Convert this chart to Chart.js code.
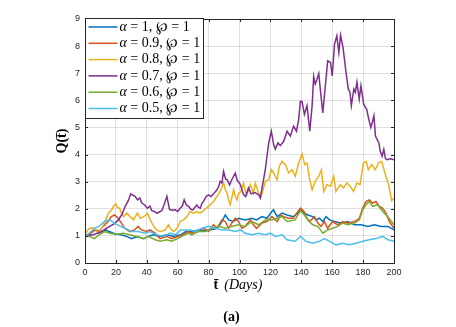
<!DOCTYPE html>
<html>
<head>
<meta charset="utf-8">
<script src="https://cdn.jsdelivr.net/npm/chart.js@4.4.1/dist/chart.umd.min.js"></script>
<style>
  html, body { margin: 0; padding: 0; background: #fff; }
  #wrap { width: 456px; height: 327px; }
</style>
</head>
<body>
<div id="wrap"><canvas id="qChart" width="456" height="327"></canvas></div>
<script>
// values, day -> Q(t)
const xTicks = [0, 20, 40, 60, 80, 100, 120, 140, 160, 180, 200];
const yTicks = [0, 1, 2, 3, 4, 5, 6, 7, 8, 9];

const seriesLabels = ['α = 1, ℘ = 1', 'α = 0.9, ℘ = 1', 'α = 0.8, ℘ = 1', 'α = 0.7, ℘ = 1', 'α = 0.6, ℘ = 1', 'α = 0.5, ℘ = 1'];
const seriesColors = ['#0072BD', '#D95319', '#EDB120', '#7E2F8E', '#77AC30', '#4DBEEE'];

const a10Days = [0, 2, 4, 7, 10, 13.4, 16, 20, 23, 27, 30, 34, 38, 41, 44, 48, 53, 57, 62, 65, 69, 73.5, 77, 80, 84, 86.5, 88.6, 90.8, 93, 96, 99.4, 103.7, 108, 111, 114.5, 117.7, 121, 122, 124.4, 127.6, 130.8, 134.8, 138, 139.5, 142, 144.2, 147.4, 149.6, 151.7, 154, 156, 158.3, 161.5, 165.8, 170, 174.4, 178.8, 183, 187.3, 191.6, 196, 200];
const a10Vals = [1.0, 1.05, 1.16, 1.22, 1.16, 1.22, 1.15, 1.06, 1.05, 0.98, 0.9, 0.98, 0.9, 0.98, 1.04, 0.98, 1.04, 0.98, 1.04, 1.15, 1.16, 1.22, 1.2, 1.22, 1.25, 1.35, 1.53, 1.77, 1.59, 1.53, 1.65, 1.59, 1.65, 1.59, 1.71, 1.65, 1.9, 1.96, 1.71, 1.84, 1.77, 1.71, 1.84, 2.0, 1.84, 1.77, 1.71, 1.59, 1.65, 1.53, 1.71, 1.59, 1.53, 1.47, 1.53, 1.41, 1.41, 1.35, 1.41, 1.35, 1.35, 1.22];

const a09Days = [0, 3, 6, 9, 11.7, 15, 17, 19.2, 21.4, 23.6, 25.7, 29, 32, 34.4, 36.5, 39.8, 42, 45.4, 48.6, 51, 53, 56, 60, 63.4, 66.5, 69, 73.5, 77, 80, 83.2, 85.4, 88.6, 90.8, 93, 95, 97.3, 99.4, 101.5, 103.7, 107, 109, 111, 114.5, 117.7, 121, 124.4, 126.5, 128.7, 131.6, 134.8, 137, 139.5, 141.7, 143, 145.3, 148.5, 150.7, 152.8, 155, 157, 160.3, 163.5, 166.8, 170, 174.4, 177.6, 179.7, 181.9, 184, 186.2, 188.3, 190.5, 192.7, 194.8, 197, 200];
const a09Vals = [1.0, 1.04, 1.22, 1.16, 1.35, 1.53, 1.71, 1.77, 1.65, 1.47, 1.28, 1.16, 1.22, 1.35, 1.22, 1.16, 1.22, 1.1, 0.9, 0.95, 0.98, 0.9, 0.98, 1.04, 1.16, 1.1, 1.22, 1.28, 1.16, 1.41, 1.28, 1.59, 1.53, 1.28, 1.47, 1.65, 1.53, 1.28, 1.35, 1.59, 1.41, 1.28, 1.47, 1.53, 1.71, 1.53, 1.77, 1.71, 1.65, 1.65, 1.84, 2.02, 1.9, 1.71, 1.53, 1.71, 1.47, 1.35, 1.53, 1.28, 1.53, 1.41, 1.53, 1.47, 1.53, 1.65, 2.02, 2.27, 2.33, 2.21, 2.27, 2.09, 2.02, 1.84, 1.53, 1.28];

const a08Days = [0, 1.5, 3.2, 5, 6.5, 8.7, 10.5, 12, 13.5, 15.1, 17.3, 18.5, 20, 21, 22.4, 23.5, 25, 27, 29.2, 31.4, 32.5, 34, 35.7, 37.8, 39, 40.4, 42.2, 43.5, 45.4, 47, 48.6, 50, 51.9, 54, 55.5, 57.4, 59.5, 61.6, 63.8, 66, 68, 70.2, 72.4, 74.5, 77.2, 80, 83.2, 85.4, 87.5, 89.7, 90.8, 91.9, 93, 94, 95, 96.2, 97.3, 98.4, 99.4, 100.5, 101.5, 102.6, 104, 104.8, 107, 109, 110.2, 112, 113.5, 115, 116.7, 118.9, 120.6, 122.1, 124.3, 125.8, 127.5, 129.7, 131.8, 134, 136.1, 138.3, 140.5, 142.2, 143.7, 145.2, 147, 149, 151.3, 153, 154.5, 156.6, 158.8, 161, 162.4, 165.2, 167.3, 169.5, 171.6, 173.8, 175.9, 178, 180.2, 182, 183.4, 185.6, 187.8, 190, 192, 194.2, 196.4, 198.5, 200];
const a08Vals = [1.04, 1.2, 1.28, 1.3, 1.25, 1.1, 1.25, 1.41, 1.6, 1.84, 1.96, 2.1, 2.18, 2.05, 2.02, 1.85, 1.71, 1.84, 1.71, 1.59, 1.7, 1.84, 1.65, 1.71, 1.75, 1.84, 1.59, 1.45, 1.28, 1.2, 1.16, 1.18, 1.22, 1.41, 1.25, 1.16, 1.28, 1.53, 1.59, 1.71, 1.9, 1.84, 1.9, 1.84, 1.96, 2.09, 2.27, 2.46, 2.64, 2.95, 2.7, 2.6, 2.3, 2.15, 2.4, 2.7, 2.45, 2.33, 2.57, 2.6, 2.75, 2.95, 2.6, 2.52, 2.89, 2.58, 2.95, 2.64, 2.4, 2.64, 3.01, 3.07, 3.44, 3.32, 3.07, 3.57, 3.75, 3.63, 3.32, 3.44, 3.2, 3.69, 4.02, 3.63, 3.69, 3.14, 2.7, 3.01, 3.2, 3.44, 2.64, 2.89, 2.83, 3.2, 2.64, 2.89, 2.77, 2.95, 2.83, 2.64, 2.95, 2.89, 3.69, 3.75, 3.44, 3.63, 3.44, 3.69, 3.75, 3.3, 2.9, 2.3, 2.4];

const a07Days = [0, 3, 5.4, 8, 11, 13, 16, 19, 21.6, 24, 26, 28, 29.6, 31, 32.4, 34, 35.5, 36.7, 38.5, 40.4, 42, 43.2, 45, 46.5, 48, 49.7, 51.5, 53, 54.7, 56.5, 58.4, 60, 61.6, 63, 64.2, 65.5, 67, 68.5, 69.8, 71, 72.4, 73.5, 74.6, 75.7, 77, 78.5, 80, 81.5, 83.2, 85.4, 86.5, 87.5, 88.6, 89.7, 91, 92, 93.6, 95, 97.3, 98.5, 100.5, 102.6, 104, 105.8, 107.5, 110, 112.4, 113.5, 114.6, 116.7, 118.9, 120.6, 122.1, 123.2, 124.9, 126.4, 128.6, 130.8, 132.9, 135, 136.9, 138.3, 139.4, 140.5, 142, 143.7, 145.5, 147, 148, 149, 150, 151.3, 152.5, 153.9, 155.5, 157.1, 158.9, 160, 161.5, 163, 164.3, 165.4, 167, 168.8, 170.4, 171.5, 172.4, 174, 175, 176, 177.5, 178.6, 180.4, 182.3, 183.7, 185, 186, 187, 188, 190.2, 191.2, 192.3, 193.4, 194.5, 195.6, 197.7, 200];
const a07Vals = [1.0, 1.02, 1.04, 1.1, 1.15, 1.25, 1.35, 1.45, 1.59, 1.8, 2.09, 2.3, 2.55, 2.5, 2.46, 2.33, 2.4, 2.21, 2.15, 2.02, 2.1, 1.93, 1.9, 1.83, 1.88, 1.93, 2.2, 2.46, 1.98, 1.95, 1.96, 1.9, 2.02, 2.1, 2.33, 2.15, 2.09, 1.98, 1.96, 2.05, 2.14, 2.05, 2.02, 2.2, 2.3, 2.46, 2.51, 2.45, 2.55, 2.7, 2.82, 3.01, 2.95, 3.38, 3.1, 3.07, 2.88, 3.07, 3.32, 3.05, 2.9, 2.52, 2.45, 2.77, 2.55, 2.6, 2.52, 2.4, 2.77, 3.44, 4.43, 4.86, 4.37, 4.2, 4.43, 4.33, 4.49, 4.86, 4.68, 5.05, 4.86, 5.3, 5.97, 5.95, 5.48, 5.8, 4.86, 5.8, 6.88, 6.6, 6.75, 6.99, 6.3, 5.54, 6.5, 7.46, 7.4, 6.9, 8.07, 8.38, 7.77, 8.4, 7.95, 7.09, 6.42, 6.3, 5.8, 6.42, 6.3, 6.67, 6.05, 6.54, 5.85, 5.67, 5.3, 5.0, 5.2, 5.43, 4.68, 4.43, 4.1, 3.94, 4.19, 3.85, 3.81, 3.84, 3.81];

const a06Days = [0, 3, 6, 9, 12.7, 16, 20, 25, 29, 33.5, 38, 41, 45.4, 48.6, 53, 56, 60, 64.5, 67, 69, 73.5, 78, 82, 86.5, 90.8, 95, 99.4, 103.7, 108, 112.4, 116.7, 121, 124.4, 127.6, 130.8, 136, 139.5, 142, 144.2, 147.4, 150.7, 154, 157, 160.3, 163.5, 166.8, 170, 174.4, 177.6, 179.7, 181.9, 184, 186.2, 189.4, 192.7, 196, 200];
const a06Vals = [1.0, 0.98, 0.9, 1.04, 1.16, 1.1, 1.06, 1.1, 1.04, 0.98, 0.9, 0.98, 0.86, 0.8, 0.86, 0.8, 0.9, 1.04, 1.1, 1.04, 1.16, 1.16, 1.28, 1.35, 1.28, 1.35, 1.41, 1.35, 1.53, 1.41, 1.59, 1.59, 1.65, 1.71, 1.53, 1.59, 1.93, 1.77, 1.59, 1.41, 1.35, 1.1, 1.22, 1.28, 1.35, 1.47, 1.41, 1.47, 1.59, 1.96, 2.15, 2.27, 2.09, 2.15, 1.9, 1.71, 1.41];

const a05Days = [0, 3, 6, 9, 12.7, 16, 19, 23, 26, 30, 34.4, 38.7, 42, 46.5, 51, 55, 58.4, 62, 66, 68, 71, 75.7, 80, 84.3, 88.6, 93, 97.3, 100.5, 103.7, 108, 112.4, 116.7, 120, 123.3, 127.6, 130.8, 136, 139.5, 143, 147.4, 151.7, 155, 158.3, 162.6, 166.8, 171.2, 175.5, 179.7, 184, 188.3, 192.7, 196, 200];
const a05Vals = [1.0, 1.1, 1.28, 1.35, 1.53, 1.6, 1.47, 1.35, 1.28, 1.16, 1.16, 1.1, 1.16, 1.04, 0.98, 1.1, 1.04, 1.22, 1.22, 1.22, 1.16, 1.28, 1.35, 1.28, 1.22, 1.22, 1.16, 1.22, 1.1, 1.04, 1.1, 1.04, 1.1, 0.98, 1.04, 0.86, 0.8, 0.98, 0.8, 0.73, 0.8, 0.9, 0.8, 0.67, 0.73, 0.67, 0.73, 0.8, 0.86, 0.9, 0.98, 0.86, 0.8];

const seriesDays = [a10Days, a09Days, a08Days, a07Days, a06Days, a05Days];
const seriesVals = [a10Vals, a09Vals, a08Vals, a07Vals, a06Vals, a05Vals];

const AXIS = '#262626';
const SERIF = '"Liberation Serif", "DejaVu Serif", serif';

const datasets = seriesLabels.map((lbl, i) => ({
    label: lbl,
    data: seriesDays[i].map((d, k) => ({ x: d, y: seriesVals[i][k] })),
    borderColor: seriesColors[i],
    backgroundColor: seriesColors[i],
    borderWidth: 1.5,
    pointRadius: 0,
    tension: 0,
    fill: false,
    order: seriesLabels.length - 1 - i   // last series on top, like matlab
}));

// box, inward ticks, legend, axis titles
const paperBits = {
    id: 'paperBits',
    afterDatasetsDraw(chart) {
        const { ctx, chartArea: a, scales } = chart;
        ctx.save();
        ctx.strokeStyle = AXIS;
        ctx.lineWidth = 1;
        ctx.beginPath();
        xTicks.forEach(v => {
            const px = Math.round(scales.x.getPixelForValue(v)) + 0.5;
            ctx.moveTo(px, a.bottom); ctx.lineTo(px, a.bottom - 3);
            ctx.moveTo(px, a.top); ctx.lineTo(px, a.top + 3);
        });
        yTicks.forEach(v => {
            const py = Math.round(scales.y.getPixelForValue(v)) + 0.5;
            ctx.moveTo(a.left, py); ctx.lineTo(a.left + 3, py);
            ctx.moveTo(a.right, py); ctx.lineTo(a.right - 3, py);
        });
        ctx.stroke();
        ctx.strokeRect(Math.round(a.left) + 0.5, Math.round(a.top) + 0.5, Math.round(a.right - a.left), Math.round(a.bottom - a.top));
        ctx.restore();
    },
    afterDraw(chart) {
        const { ctx, chartArea: a } = chart;
        ctx.save();

        // legend
        const lx = Math.round(a.left) + 0.5, ly = 18.5, lw = 118, lh = 100;
        ctx.fillStyle = '#fff';
        ctx.fillRect(lx, ly, lw, lh);
        ctx.strokeStyle = AXIS;
        ctx.lineWidth = 1;
        ctx.strokeRect(lx, ly, lw, lh);
        chart.data.datasets.forEach((ds, i) => {
            const cy = 27 + i * 16.3;
            ctx.strokeStyle = ds.borderColor;
            ctx.lineWidth = 1.5;
            ctx.beginPath();
            ctx.moveTo(lx + 3, cy); ctx.lineTo(lx + 32, cy);
            ctx.stroke();
            ctx.fillStyle = '#000';
            ctx.textBaseline = 'middle';
            let tx = lx + 34;
            ctx.font = 'italic 14px ' + SERIF;
            ctx.fillText(ds.label[0], tx, cy);
            tx += ctx.measureText(ds.label[0]).width;
            ctx.font = '14px ' + SERIF;
            ctx.fillText(ds.label.slice(1), tx, cy);
        });

        // y title
        ctx.fillStyle = '#000';
        ctx.save();
        ctx.translate(62, (a.top + a.bottom) / 2);
        ctx.rotate(-Math.PI / 2);
        ctx.font = 'bold 14px ' + SERIF;
        ctx.textAlign = 'center';
        ctx.textBaseline = 'middle';
        ctx.fillText('Q(t\u0304)', 0, 0);
        ctx.restore();

        // x title: bold t-bar, italic (Days)
        ctx.textBaseline = 'alphabetic';
        ctx.textAlign = 'left';
        ctx.font = 'bold 14px ' + SERIF;
        const p1 = 't\u0304';
        const w1 = ctx.measureText(p1).width;
        ctx.font = 'italic 14px ' + SERIF;
        const p2 = '(Days)';
        const w2 = ctx.measureText(p2).width;
        const gap = 6;
        let sx = 238 - (w1 + gap + w2) / 2;
        ctx.font = 'bold 14px ' + SERIF;
        ctx.fillText(p1, sx, 289);
        ctx.font = 'italic 14px ' + SERIF;
        ctx.fillText(p2, sx + w1 + gap, 289);

        // panel tag
        ctx.font = 'bold 14px ' + SERIF;
        ctx.textAlign = 'center';
        ctx.textBaseline = 'middle';
        ctx.fillText('(a)', 231.5, 317.5);
        ctx.restore();
    }
};

const gridColor = 'rgba(38,38,38,0.14)';
const tickFont = { family: '"Liberation Sans", Arial, sans-serif', size: 9 };

new Chart(document.getElementById('qChart'), {
    type: 'line',
    data: { datasets },
    options: {
        responsive: false,
        animation: false,
        devicePixelRatio: 1,
        layout: { padding: { top: 19, right: 62, left: 0, bottom: 0 } },
        plugins: { legend: { display: false }, tooltip: { enabled: false } },
        scales: {
            x: {
                type: 'linear',
                min: 0, max: 200,
                afterBuildTicks: s => { s.ticks = xTicks.map(v => ({ value: v })); },
                afterFit: s => { s.height = 64; },
                grid: { color: gridColor, drawTicks: false },
                border: { color: AXIS, width: 1 },
                ticks: { color: AXIS, font: tickFont, padding: 4, maxRotation: 0 }
            },
            y: {
                type: 'linear',
                min: 0, max: 9,
                afterBuildTicks: s => { s.ticks = yTicks.map(v => ({ value: v })); },
                afterFit: s => { s.width = 85; },
                grid: { color: gridColor, drawTicks: false },
                border: { color: AXIS, width: 1 },
                ticks: { color: AXIS, font: tickFont, padding: 5 }
            }
        }
    },
    plugins: [paperBits]
});
</script>
</body>
</html>
